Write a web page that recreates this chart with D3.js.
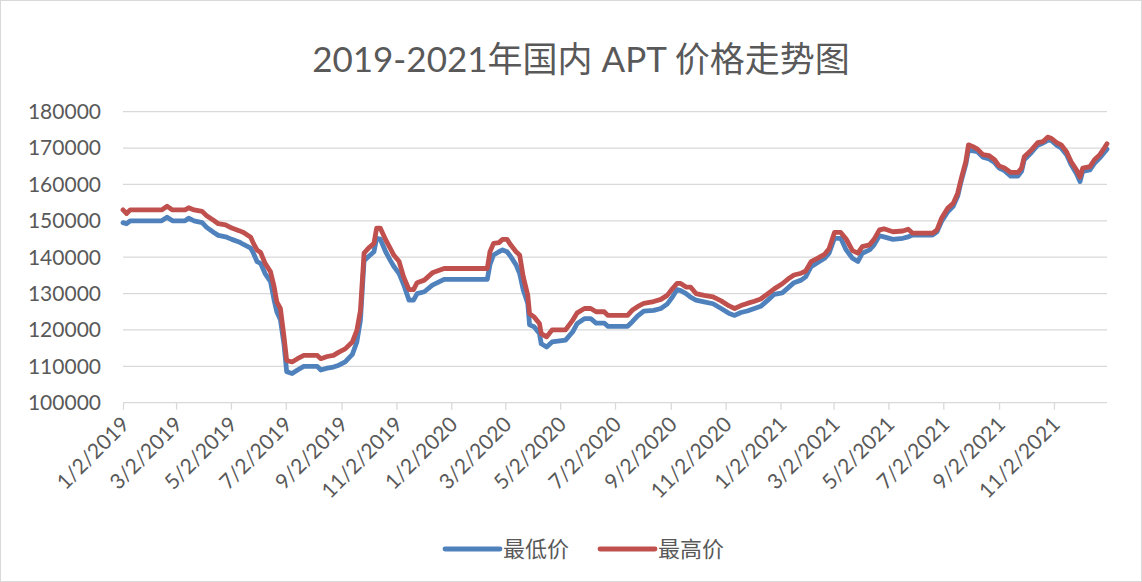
<!DOCTYPE html>
<html>
<head>
<meta charset="utf-8">
<script src="https://cdn.jsdelivr.net/npm/d3@7"></script>
<style>
  body { margin: 0; background: #fff; }
  svg text { font-family: Lato, "Noto Sans CJK SC", sans-serif; fill: #595959; }
</style>
</head>
<body>
<div id="chart"></div>
<script>
const title = "2019-2021年国内 APT 价格走势图";
const seriesNames = ["最低价", "最高价"];
const seriesColors = ["#4f81bd", "#c0504d"];

const yTicks = [100000, 110000, 120000, 130000, 140000, 150000, 160000, 170000, 180000];
const xTickLabels = ["1/2/2019", "3/2/2019", "5/2/2019", "7/2/2019", "9/2/2019", "11/2/2019",
  "1/2/2020", "3/2/2020", "5/2/2020", "7/2/2020", "9/2/2020", "11/2/2020",
  "1/2/2021", "3/2/2021", "5/2/2021", "7/2/2021", "9/2/2021", "11/2/2021"];

const dates = [
  "2019-01-02", "2019-01-06", "2019-01-10", "2019-02-14", "2019-02-20", "2019-02-26", "2019-03-12", "2019-03-16",
  "2019-03-22", "2019-03-31", "2019-04-05", "2019-04-13", "2019-04-18", "2019-04-26", "2019-05-03", "2019-05-11",
  "2019-05-16", "2019-05-24", "2019-05-27", "2019-05-31", "2019-06-04", "2019-06-09", "2019-06-15", "2019-06-19",
  "2019-06-22", "2019-06-26", "2019-06-30", "2019-07-03", "2019-07-09", "2019-07-15", "2019-07-22", "2019-08-06",
  "2019-08-10", "2019-08-17", "2019-08-24", "2019-08-30", "2019-09-06", "2019-09-14", "2019-09-19", "2019-09-23",
  "2019-09-27", "2019-10-02", "2019-10-08", "2019-10-11", "2019-10-15", "2019-10-21", "2019-10-26", "2019-10-30",
  "2019-11-05", "2019-11-10", "2019-11-16", "2019-11-21", "2019-11-25", "2019-12-03", "2019-12-12", "2019-12-25",
  "2020-02-11", "2020-02-14", "2020-02-18", "2020-02-24", "2020-02-28", "2020-03-04", "2020-03-08", "2020-03-14",
  "2020-03-18", "2020-03-22", "2020-03-27", "2020-03-29", "2020-04-03", "2020-04-09", "2020-04-11", "2020-04-17",
  "2020-04-23", "2020-05-08", "2020-05-16", "2020-05-21", "2020-05-29", "2020-06-05", "2020-06-11", "2020-06-20",
  "2020-06-24", "2020-07-16", "2020-07-21", "2020-07-27", "2020-08-03", "2020-08-14", "2020-08-22", "2020-08-29",
  "2020-09-04", "2020-09-09", "2020-09-13", "2020-09-19", "2020-09-24", "2020-09-30", "2020-10-09", "2020-10-19",
  "2020-10-28", "2020-11-06", "2020-11-12", "2020-11-19", "2020-11-26", "2020-12-04", "2020-12-11", "2020-12-19",
  "2020-12-26", "2021-01-04", "2021-01-12", "2021-01-17", "2021-01-25", "2021-01-30", "2021-02-05", "2021-02-12",
  "2021-02-20", "2021-02-25", "2021-03-03", "2021-03-10", "2021-03-16", "2021-03-23", "2021-03-29", "2021-04-03",
  "2021-04-11", "2021-04-16", "2021-04-22", "2021-04-27", "2021-05-07", "2021-05-18", "2021-05-24", "2021-05-29",
  "2021-06-20", "2021-06-25", "2021-06-30", "2021-07-07", "2021-07-13", "2021-07-18", "2021-07-22", "2021-07-27",
  "2021-07-30", "2021-08-04", "2021-08-09", "2021-08-15", "2021-08-22", "2021-08-28", "2021-09-02", "2021-09-08",
  "2021-09-15", "2021-09-23", "2021-09-27", "2021-09-30", "2021-10-08", "2021-10-15", "2021-10-21", "2021-10-26",
  "2021-10-30", "2021-11-05", "2021-11-10", "2021-11-16", "2021-11-21", "2021-11-27", "2021-12-01", "2021-12-04",
  "2021-12-12", "2021-12-17", "2021-12-23", "2021-12-28", "2021-12-31"
];

// 最低价
const lowPrice = [
  149500, 149200, 150000, 150000, 151000, 150000, 150000, 150700,
  150000, 149500, 148200, 146800, 146000, 145600, 144900, 144200,
  143500, 142500, 141100, 138800, 138300, 135500, 133300, 128200,
  125000, 122800, 116000, 108500, 108000, 109000, 110000, 110000,
  109000, 109500, 109800, 110300, 111200, 113300, 116700, 122700,
  139000, 140200, 141500, 145200, 145000, 141500, 139200, 137500,
  135500, 132500, 128200, 128200, 130000, 130500, 132300, 133900,
  133900, 138000, 140600, 141500, 142000, 141500, 140200, 137900,
  135500, 131000, 127300, 121400, 120900, 119000, 116200, 115300,
  116700, 117200, 119500, 121800, 123100, 123100, 121900, 121900,
  121000, 121000, 122200, 123800, 125200, 125400, 125900, 127100,
  129100, 131100, 130800, 130000, 129000, 128200, 127700, 127200,
  125900, 124500, 124000, 124800, 125200, 125900, 126500, 128200,
  129800, 130200, 131900, 133000, 133700, 134600, 137400, 138500,
  139700, 141100, 145200, 145200, 142000, 139700, 138800, 141100,
  142000, 143400, 145900, 145600, 144900, 145200, 145600, 146100,
  146100, 147000, 149800, 152500, 154000, 156800, 161000, 165500,
  169500, 169200, 169000, 167500, 167000, 166000, 164500, 163800,
  162300, 162300, 163600, 166800, 168800, 170800, 171400, 172100,
  172100, 170800, 170000, 168200, 165500, 163000, 160800, 163600,
  164000, 165800, 167300, 168800, 169700
];

// 最高价
const highPrice = [
  153000, 152000, 153000, 153000, 154000, 153000, 153000, 153600,
  153000, 152600, 151400, 150100, 149200, 148900, 148000, 147300,
  146800, 145500, 143800, 142000, 141300, 138300, 136000, 131900,
  127700, 125900, 118100, 111600, 111200, 112100, 113000, 113000,
  112100, 112700, 113000, 113900, 114800, 116700, 119900, 125400,
  141100, 142500, 143800, 148000, 148000, 144800, 142500, 140600,
  138800, 134600, 131100, 131100, 133000, 133700, 135700, 136900,
  136900, 141500, 143800, 144000, 144900, 144900, 143400, 141500,
  140600, 134600, 129600, 124500, 123600, 121800, 119000, 118100,
  120000, 120000, 122700, 124700, 125900, 125900, 125000, 125000,
  124000, 124000, 125400, 126400, 127300, 127800, 128400, 129500,
  131400, 132800, 132800, 131800, 131800, 130000, 129500, 129100,
  128000, 126600, 125900, 126700, 127300, 127900, 128500, 130000,
  131300, 132700, 134300, 135100, 135600, 136200, 138800, 139700,
  140800, 142300, 146800, 146800, 145000, 141800, 141100, 142900,
  143400, 144900, 147500, 147800, 147000, 147200, 147700, 146600,
  146600, 147500, 150700, 153500, 154800, 157600, 161700, 166300,
  170900, 170400, 169700, 168200, 167900, 166800, 165100, 164500,
  163300, 163300, 164500, 167600, 169500, 171500, 171800, 173000,
  172700, 171500, 170900, 169000, 166300, 164000, 162000, 164500,
  164900, 166800, 168200, 170000, 171200
];

const width = 1142, height = 582;
const plot = {left: 123, right: 1107, top: 111.7, bottom: 402.7};
const lineWidth = 4.8;

const parse = d3.timeParse("%Y-%m-%d");
const parseTick = d3.timeParse("%m/%d/%Y");
const points = dates.map((d, i) => ({date: parse(d), low: lowPrice[i], high: highPrice[i]}));
const tickDates = xTickLabels.map(t => parseTick(t));

const svg = d3.select("#chart").append("svg")
  .attr("width", width)
  .attr("height", height);

svg.append("rect")
  .attr("x", 0.5).attr("y", 0.5)
  .attr("width", width - 1).attr("height", height - 1)
  .attr("fill", "#fff")
  .attr("stroke", "#d9d9d9");

const x = d3.scaleTime()
  .domain([points[0].date, points[points.length - 1].date])
  .range([plot.left, plot.right]);
const y = d3.scaleLinear()
  .domain([100000, 180000])
  .range([plot.bottom, plot.top]);

// gridlines
svg.append("g")
  .selectAll("line")
  .data(yTicks.slice(1))
  .enter().append("line")
  .attr("x1", plot.left).attr("x2", plot.right)
  .attr("y1", d => y(d)).attr("y2", d => y(d))
  .attr("stroke", "#d9d9d9")
  .attr("stroke-width", 1.3);

// y labels
svg.append("g")
  .selectAll("text")
  .data(yTicks)
  .enter().append("text")
  .attr("x", 101)
  .attr("y", d => y(d))
  .attr("dy", "0.35em")
  .attr("text-anchor", "end")
  .style("font-size", "21px")
  .text(d => d);

// x axis
const xAxis = d3.axisBottom(x)
  .tickValues(tickDates)
  .tickSize(7)
  .tickFormat((d, i) => xTickLabels[i]);

const gx = svg.append("g")
  .attr("transform", `translate(0,${plot.bottom})`)
  .call(xAxis);
gx.select(".domain").attr("stroke", "#d9d9d9").attr("stroke-width", 1.3)
  .attr("d", `M${plot.left},0H${plot.right}`);
gx.selectAll(".tick line").attr("stroke", "#d9d9d9").attr("stroke-width", 1.3);
gx.selectAll(".tick text")
  .attr("text-anchor", "end")
  .attr("y", 0)
  .attr("dy", 0)
  .attr("transform", "translate(7,23) rotate(-45)")
  .style("font-size", "21px")
  .style("font-family", "Lato, sans-serif")
  .attr("fill", "#595959");

// series
const lowLine = d3.line().x(d => x(d.date)).y(d => y(d.low));
const highLine = d3.line().x(d => x(d.date)).y(d => y(d.high));

svg.append("path")
  .datum(points)
  .attr("d", lowLine)
  .attr("fill", "none")
  .attr("stroke", seriesColors[0])
  .attr("stroke-width", lineWidth)
  .attr("stroke-linejoin", "round")
  .attr("stroke-linecap", "round");

svg.append("path")
  .datum(points)
  .attr("d", highLine)
  .attr("fill", "none")
  .attr("stroke", seriesColors[1])
  .attr("stroke-width", lineWidth)
  .attr("stroke-linejoin", "round")
  .attr("stroke-linecap", "round");

// title
svg.append("text")
  .attr("x", 581)
  .attr("y", 72)
  .attr("text-anchor", "middle")
  .style("font-size", "35px")
  .text(title);

// legend
const legendX = [445, 600];
const legend = svg.append("g");
seriesNames.forEach((name, i) => {
  legend.append("line")
    .attr("x1", legendX[i]).attr("x2", legendX[i] + 55)
    .attr("y1", 549).attr("y2", 549)
    .attr("stroke", seriesColors[i])
    .attr("stroke-width", lineWidth)
    .attr("stroke-linecap", "round");
  legend.append("text")
    .attr("x", legendX[i] + 58)
    .attr("y", 549)
    .attr("dy", "0.35em")
    .style("font-size", "22px")
    .text(name);
});
</script>
</body>
</html>
